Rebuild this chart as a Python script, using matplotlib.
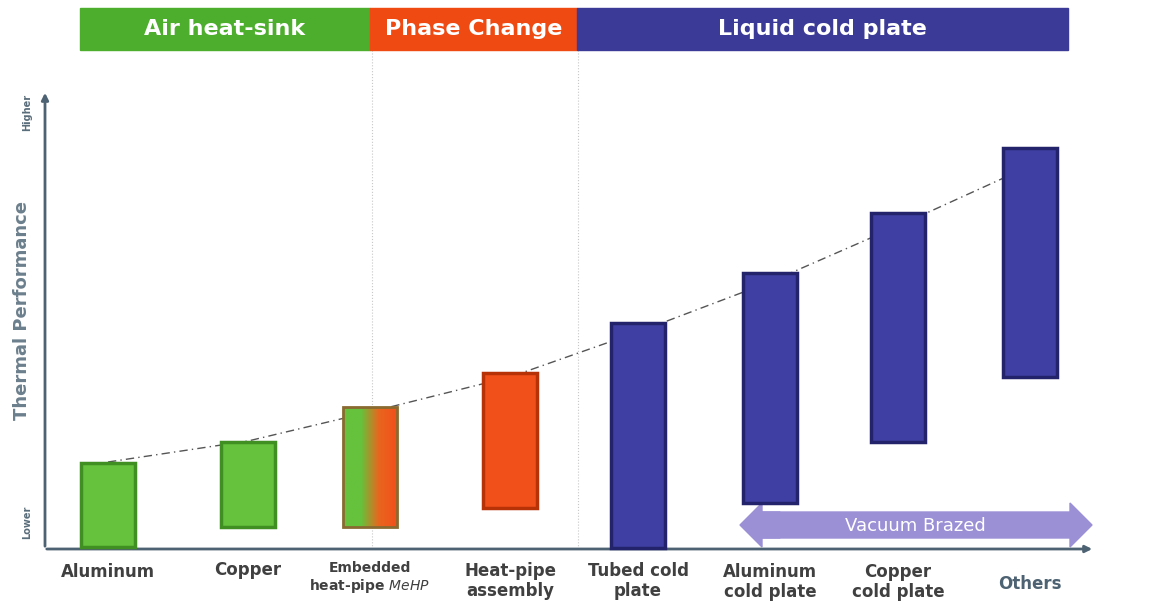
import numpy as np
import matplotlib.pyplot as plt
from matplotlib.patches import Rectangle, FancyArrow
from matplotlib.colors import LinearSegmentedColormap

# Data (pixel-space layout, y grows downward)
labels = ["Aluminum", "Copper", "Embedded\nheat-pipe $\\bf{\\it{MeHP}}$", "Heat-pipe\nassembly",
          "Tubed cold\nplate", "Aluminum\ncold plate", "Copper\ncold plate", "Others"]
label_y = [572, 570, 578, 581, 581, 582, 582, 584]
centers = [108, 248, 370, 510, 638, 770, 898, 1030]
tops = [463, 442, 407, 373, 323, 273, 213, 148]
bottoms = [547, 527, 527, 508, 548, 503, 442, 377]
kinds = ["air", "air", "mix", "phase", "liquid", "liquid", "liquid", "liquid"]
trend_y = [462, 441, 412, 377, 332, 282, 226, 166]

bands = [("Air heat-sink", 80, 370, "#4cae2c"),
         ("Phase Change", 370, 577, "#ef4a12"),
         ("Liquid cold plate", 577, 1068, "#3b3a97")]

colors = {"air": ("#66c23c", "#3f8f22"), "phase": ("#f2501a", "#b83208"),
          "liquid": ("#3f3fa3", "#23236b")}

fig = plt.figure(figsize=(11.66, 6.13), dpi=100)
ax = fig.add_axes([0, 0, 1, 1])
ax.set_xlim(0, 1166)
ax.set_ylim(613, 0)
ax.axis("off")

# header bands
for name, x0, x1, c in bands:
    ax.add_patch(Rectangle((x0, 8), x1 - x0, 42, color=c, zorder=2))
    ax.text((x0 + x1) / 2, 29, name, color="white", fontsize=16, fontweight="bold",
            ha="center", va="center", zorder=3)

for xs in [372, 578]:
    ax.plot([xs, xs], [50, 548], color="#c8c8c8", lw=0.8, ls=":", zorder=1)

# axes arrows
ax.annotate("", xy=(45, 90), xytext=(45, 549),
            arrowprops=dict(arrowstyle="-|>", color="#4d6272", lw=2))
ax.annotate("", xy=(1095, 549), xytext=(44, 549),
            arrowprops=dict(arrowstyle="-|>", color="#4d6272", lw=2))
ax.text(22, 310, "Thermal Performance", rotation=90, fontsize=13, fontweight="bold",
        color="#6b7f8c", ha="center", va="center")
ax.text(27, 112, "Higher", rotation=90, fontsize=7, fontweight="bold", color="#5a6d7a",
        ha="center", va="center")
ax.text(27, 522, "Lower", rotation=90, fontsize=7, fontweight="bold", color="#5a6d7a",
        ha="center", va="center")

# trend line
ax.plot(centers, trend_y, color="#555555", lw=1, ls=(0, (6, 3, 1, 3)), zorder=1)

# bars
w = 54
gcmap = LinearSegmentedColormap.from_list("g", ["#66c23c", "#66c23c", "#e8661e", "#f2501a"])
for cx, t, b, k in zip(centers, tops, bottoms, kinds):
    if k == "mix":
        grad = np.linspace(0, 1, 100).reshape(1, -1)
        ax.imshow(grad, cmap=gcmap, extent=(cx - w / 2, cx + w / 2, b, t),
                  aspect="auto", zorder=3)
        ax.add_patch(Rectangle((cx - w / 2, t), w, b - t, fill=False,
                               ec="#8a6a30", lw=2, zorder=4))
    else:
        face, edge = colors[k]
        ax.bar(cx, b - t, bottom=t, width=w, color=face, edgecolor=edge, lw=2.5, zorder=3)

# vacuum brazed arrow
ax.add_patch(FancyArrow(760, 525, 332, 0, width=26, head_width=44, head_length=22,
                        length_includes_head=True, color="#9b8fd6", zorder=2))
ax.add_patch(FancyArrow(780, 525, -40, 0, width=26, head_width=44, head_length=22,
                        length_includes_head=True, color="#9b8fd6", zorder=2))
ax.text(915, 526, "Vacuum Brazed", color="white", fontsize=13, ha="center",
        va="center", zorder=3)

# category labels
for i, (cx, lab, y) in enumerate(zip(centers, labels, label_y)):
    size = 10 if i == 2 else 12
    ax.text(cx, y, lab, ha="center", va="center",
            fontsize=size, fontweight="bold",
            color="#4d6272" if i == 7 else "#404040", linespacing=1.2)

fig.savefig("out.png", dpi=100)
